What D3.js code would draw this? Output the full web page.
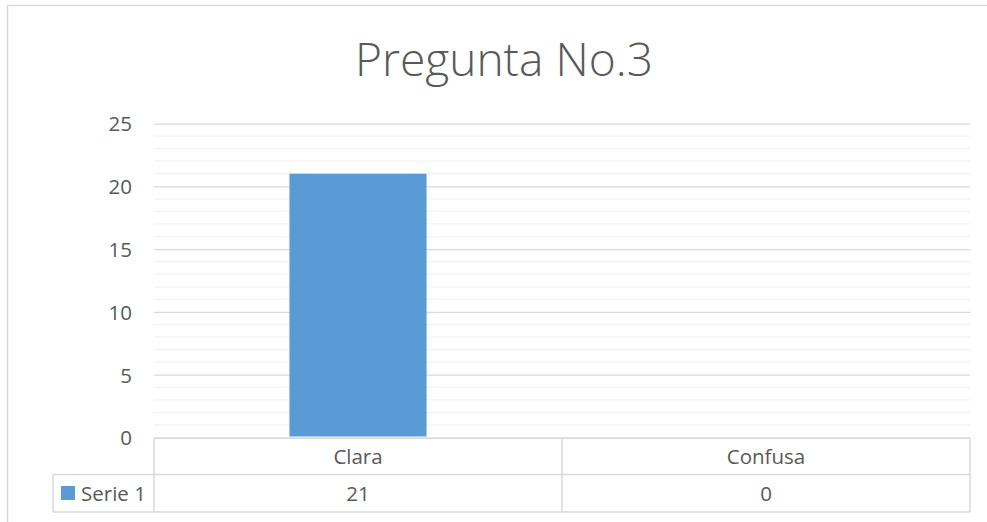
<!DOCTYPE html>
<html>
<head>
<meta charset="utf-8">
<script src="https://cdn.jsdelivr.net/npm/d3@7"></script>
<style>
  html, body { margin: 0; padding: 0; background: #fff; }
  svg { display: block; }
  text { font-family: "Open Sans", "Noto Sans", sans-serif; fill: #595959; }
</style>
</head>
<body>
<svg id="chart" width="987" height="522"></svg>
<script>
const title = "Pregunta No.3";
const categories = ["Clara", "Confusa"];
const seriesName = "Serie 1";
const values = [21, 0];
const yTicks = [0, 5, 10, 15, 20, 25];
const yMinorTicks = d3.range(0, 26, 1);

const svg = d3.select("#chart");
const plot = { left: 154, right: 970, top: 123.5, bottom: 437.5 };
const gridMajor = "#d9d9d9", gridMinor = "#f2f2f2", barColor = "#5B9BD5";
const fs = 20.5;

// outer chart border
svg.append("rect")
  .attr("x", 7.5).attr("y", 5.5).attr("width", 1000).attr("height", 600)
  .attr("fill", "#fff").attr("stroke", "#d9d9d9").attr("stroke-width", 1.5);

// title
svg.append("text")
  .attr("x", 504).attr("y", 76)
  .attr("text-anchor", "middle")
  .attr("font-size", 46).attr("font-weight", 300)
  .attr("textLength", 298).attr("lengthAdjust", "spacingAndGlyphs")
  .text(title);

const y = d3.scaleLinear().domain([0, 25]).range([plot.bottom, plot.top]);
const x = d3.scaleBand().domain(categories).range([plot.left, plot.right]).padding(0);

// minor gridlines
svg.append("g").selectAll("line")
  .data(yMinorTicks.filter(v => v % 5 !== 0))
  .join("line")
  .attr("x1", plot.left).attr("x2", plot.right)
  .attr("y1", d => y(d)).attr("y2", d => y(d))
  .attr("stroke", gridMinor).attr("stroke-width", 1.25);

// major gridlines via axis
const yAxis = d3.axisLeft(y).tickValues(yTicks).tickSize(-(plot.right - plot.left)).tickPadding(22);
const gy = svg.append("g").attr("transform", `translate(${plot.left},0)`).call(yAxis);
gy.select(".domain").remove();
gy.selectAll(".tick line").attr("stroke", gridMajor).attr("stroke-width", 1.25);
gy.selectAll(".tick text")
  .attr("font-size", fs).attr("fill", "#595959")
  .attr("font-family", '"Open Sans", sans-serif')
  .attr("dy", "0.36em");

// bars
const barFrac = 0.336;
svg.append("g").selectAll("rect")
  .data(categories.map((c, i) => ({ c, v: values[i] })))
  .join("rect")
  .attr("x", d => x(d.c) + x.bandwidth() * (1 - barFrac) / 2)
  .attr("width", x.bandwidth() * barFrac)
  .attr("y", d => y(d.v))
  .attr("height", d => Math.max(0, y(0) - 1 - y(d.v)))
  .attr("fill", barColor);

// data table
const tTop = plot.bottom + 0.75, tMid = 474.5, tBot = 512;
const tLeft = 53;
const tg = svg.append("g").attr("stroke", gridMajor).attr("stroke-width", 1.5);
tg.append("line").attr("x1", plot.left).attr("x2", plot.right).attr("y1", tTop).attr("y2", tTop);
tg.append("line").attr("x1", tLeft).attr("x2", plot.right).attr("y1", tMid).attr("y2", tMid);
tg.append("line").attr("x1", tLeft).attr("x2", plot.right).attr("y1", tBot).attr("y2", tBot);
tg.append("line").attr("x1", tLeft).attr("x2", tLeft).attr("y1", tMid).attr("y2", tBot);
const vlines = categories.map(c => x(c)).concat([plot.right]);
tg.selectAll(".v").data(vlines).join("line")
  .attr("x1", d => d).attr("x2", d => d).attr("y1", tTop).attr("y2", tBot);

// header row: category names
svg.append("g").selectAll("text").data(categories).join("text")
  .attr("x", d => x(d) + x.bandwidth() / 2).attr("y", 463.5)
  .attr("text-anchor", "middle").attr("font-size", fs)
  .text(d => d);

// values row
svg.append("g").selectAll("text").data(values).join("text")
  .attr("x", (d, i) => x(categories[i]) + x.bandwidth() / 2).attr("y", 500.5)
  .attr("text-anchor", "middle").attr("font-size", fs)
  .text(d => d);

// legend key + series name
svg.append("rect").attr("x", 61).attr("y", 486).attr("width", 14).attr("height", 14).attr("fill", barColor);
svg.append("text").attr("x", 81).attr("y", 500.5).attr("font-size", fs).text(seriesName);
</script>
</body>
</html>
